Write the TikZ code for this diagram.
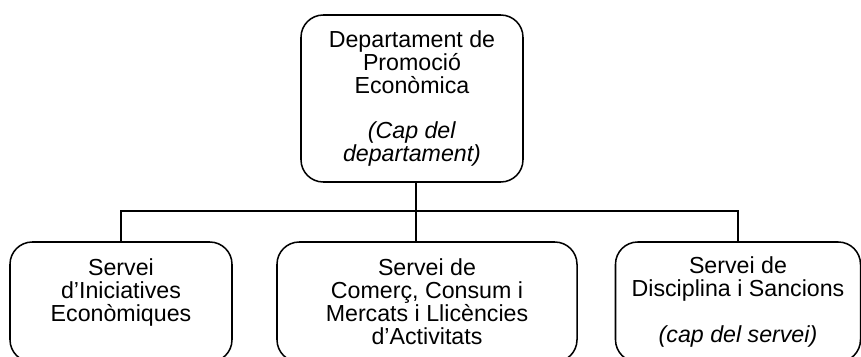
\documentclass[tikz,border=0pt]{standalone}
\usepackage{fontspec}
\setmainfont{Liberation Sans}
\usetikzlibrary{positioning}

\tikzset{
  unitbox/.style={draw, line width=1.3pt, rounded corners=19pt, align=center,
    inner sep=0pt, font=\fontsize{19.8}{19.6}\selectfont},
  linkline/.style={line width=1.1pt}
}

\begin{document}
\begin{tikzpicture}[x=0.03cm,y=-0.03cm]

      \useasboundingbox (0,0) rectangle (861,356);
      \clip (0,0) rectangle (861,356);

      % head of the department
      \node[unitbox, minimum width=6.66cm, minimum height=5.01cm] (dept) at (412,98.5)
        {Departament de\\Promoció\\Econòmica\\[19.6pt]\textit{(Cap del}\\\textit{departament)}};

      % the three services
      \foreach \nm/\cx/\bw/\txt in {
        serv1/121/6.66cm/{Servei\\d’Iniciatives\\Econòmiques\\\mbox{}},
        serv2/427/9cm/{Servei de\\Comerç, Consum i\\Mercats i Llicències\\d’Activitats},
        serv3/738/7.35cm/{Servei de\\Disciplina i Sancions\\[19.6pt]\textit{(cap del servei)}}}
      \node[unitbox, minimum width=\bw, minimum height=3.6cm] (\nm) at (\cx,302) {\txt};

      % connectors
      \coordinate (bus) at (416,211);
      \draw[linkline] ([xshift=0.12cm]dept.south) -- ([xshift=0.12cm]dept.south |- serv2.north);
      \draw[linkline] (serv1.north) |- (bus) -| (serv3.north);

\end{tikzpicture}
\end{document}
